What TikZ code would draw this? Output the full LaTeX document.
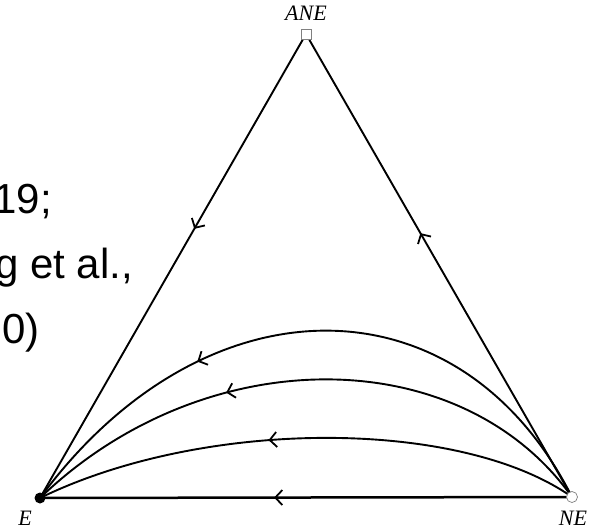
\documentclass[tikz,border=0pt]{standalone}
\usepackage{fontspec}
\newfontfamily\citefont{Liberation Sans}
\newfontfamily\labelfont{Liberation Serif}
\usetikzlibrary{arrows.meta,decorations.markings}

\tikzset{
  flow/.style={line width=1.9pt},
  flowarrow/.style={flow, decoration={markings,
      mark=at position #1 with {\arrow{Straight Barb[length=7pt,width=15pt,line width=1.8pt]}}},
    postaction={decorate}},
  vertexlabel/.style={font=\labelfont\itshape\fontsize{22}{22}\selectfont, inner sep=0pt},
  citetext/.style={font=\citefont\fontsize{42}{42}\selectfont, inner sep=0pt},
}

\begin{document}
\begin{tikzpicture}[x=1pt, y=-1pt]
    % Canvas
    \fill[white] (0,0) rectangle (596,530);
    \clip (0,0) rectangle (596,530);

    % Vertices of the simplex
    \coordinate (ANE) at (306,34);
    \coordinate (E) at (40,498);
    \coordinate (NE) at (572,497);

    % Clipped citation text on the left
    \node[citetext, anchor=base east] (citeA) at (52,213) {19;};
    \node[citetext, anchor=base east] (citeB) at (133,278) {g et al.,};
    \node[citetext, anchor=base east] (citeC) at (40,343) {0)};

    % Edges
    \draw[flowarrow=0.42] (ANE) -- (E);
    \draw[flowarrow=0.57] (NE) -- (ANE);
    \draw[flowarrow=0.56, line width=2.5pt] (NE) -- (E);

    % Interior trajectories
    \draw[flowarrow=0.68] (NE) .. controls (460,275) and (204,275) .. (E);
    \draw[flowarrow=0.64] (NE) .. controls (460,340) and (204,340) .. (E);
    \draw[flowarrow=0.57] (NE) .. controls (460,418) and (204,418) .. (E);

    % Vertex markers
    \node[rectangle, draw=gray, fill=white, line width=0.7pt, inner sep=0pt,
      minimum width=10pt, minimum height=10pt] (ANEmark) at (ANE) {};
    \node[circle, fill=black, inner sep=0pt, minimum size=11pt] (Emark) at (E) {};
    \node[circle, draw=gray, fill=white, line width=0.7pt, inner sep=0pt,
      minimum size=11pt] (NEmark) at (NE) {};

    % Vertex labels
    \node[vertexlabel, anchor=base] (ANElabel) at (306,20) {ANE};
    \node[vertexlabel, anchor=base] (Elabel) at (25,525) {E};
    \node[vertexlabel, anchor=base] (NElabel) at (573,525) {NE};
\end{tikzpicture}
\end{document}
